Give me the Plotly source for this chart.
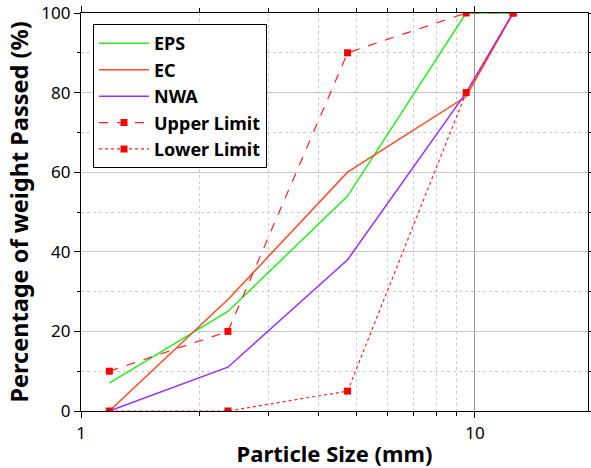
import plotly.graph_objects as go

sizes = [1.18, 2.36, 4.75, 9.5, 12.5]
eps = [7, 25, 54, 100, 100]
ec = [0, 28, 60, 79, 100]
nwa = [0, 11, 38, 80, 100]
upper = [10, 20, 90, 100, 100]
lower = [0, 0, 5, 80, 100]

FONT = "Noto Sans"
fig = go.Figure()
fig.add_trace(go.Scatter(x=sizes, y=eps, name="EPS", mode="lines",
                         line=dict(color="#22ee22", width=1.5)))
fig.add_trace(go.Scatter(x=sizes, y=ec, name="EC", mode="lines",
                         line=dict(color="#ff4a26", width=1.5)))
fig.add_trace(go.Scatter(x=sizes, y=nwa, name="NWA", mode="lines",
                         line=dict(color="#9b2cff", width=1.5)))
fig.add_trace(go.Scatter(x=sizes, y=upper, name="Upper Limit", mode="lines+markers",
                         line=dict(color="#ff2020", width=1.2, dash="dash"),
                         marker=dict(symbol="square", size=7, color="#ff0000")))
fig.add_trace(go.Scatter(x=sizes, y=lower, name="Lower Limit", mode="lines+markers",
                         line=dict(color="#ff2020", width=1.2, dash="dot"),
                         marker=dict(symbol="square", size=7, color="#ff0000")))

fig.update_layout(
    width=591, height=468,
    margin=dict(l=81, r=3, t=13, b=57),
    paper_bgcolor="white", plot_bgcolor="white",
    font=dict(family=FONT, color="black", size=16),
    showlegend=True,
    legend=dict(x=0.0237, y=0.972, xanchor="left", yanchor="top",
                bgcolor="white", bordercolor="black", borderwidth=1,
                font=dict(family=FONT, size=18, color="black", weight="bold"),
                tracegroupgap=0, itemwidth=50),
    xaxis=dict(type="log", range=[0, 1.287], automargin=False,
               tickvals=[1, 10], ticktext=["1", "10"],
               ticks="outside", ticklen=6, tickcolor="black",
               showline=True, linecolor="black", linewidth=1.2, mirror="ticks",
               showgrid=True, gridcolor="#999999", gridwidth=1,
               minor=dict(tickvals=[2, 3, 4, 5, 6, 7, 8, 9], showgrid=True,
                          gridcolor="#cccccc", griddash="dot", ticks="outside",
                          ticklen=4, tickcolor="black"),
               zeroline=False,
               title=dict(text="<b>Particle Size (mm)</b>", font=dict(size=22), standoff=6),
               tickfont=dict(size=17)),
    yaxis=dict(range=[0, 100], tickvals=[0, 20, 40, 60, 80, 100], automargin=False,
               ticks="outside", ticklen=6, tickcolor="black",
               showline=True, linecolor="black", linewidth=1.2, mirror="ticks",
               showgrid=True, gridcolor="#c8c8c8", gridwidth=1,
               minor=dict(tickvals=[10, 30, 50, 70, 90], showgrid=True,
                          gridcolor="#cccccc", griddash="dot", ticks="outside",
                          ticklen=3, tickcolor="black"),
               zeroline=False,
               title=dict(text="<b>Percentage of weight Passed (%)</b>", font=dict(size=23.5), standoff=6),
               tickfont=dict(size=17)),
)
fig.write_html("out.html")
